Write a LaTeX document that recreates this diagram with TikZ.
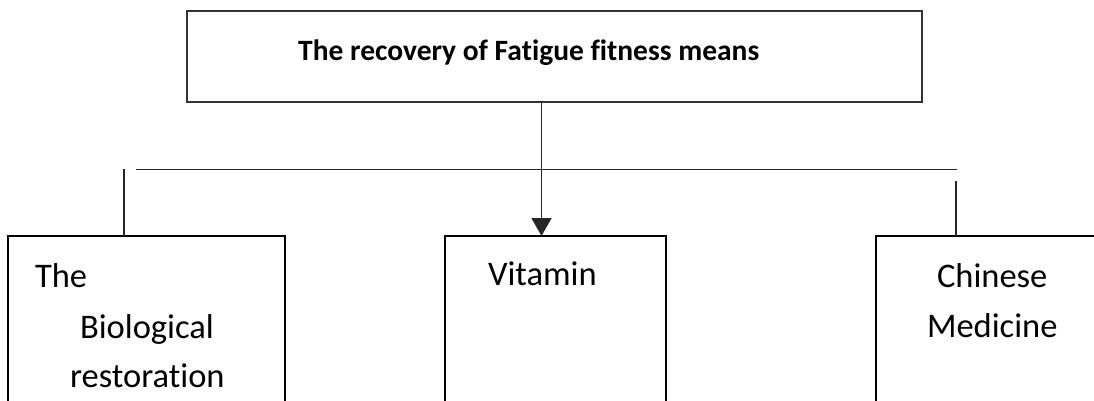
\documentclass[tikz,border=0pt]{standalone}
\usepackage{fontspec}
\setmainfont{Carlito}[Ligatures=NoCommon]
\usetikzlibrary{arrows.meta}
\begin{document}
\begin{tikzpicture}[x=1pt,y=-1pt,
  topbox/.style={draw=black!80, line width=2pt, minimum width=735pt, minimum height=91pt, anchor=north west, inner sep=0pt, outer sep=0pt},
  lowbox/.style={draw=black, line width=1.8pt, minimum height=190pt, anchor=north west, inner sep=0pt, outer sep=0pt},
  lbl/.style={anchor=base west, inner sep=0pt, outer sep=0pt, font=\fontsize{34.5}{40}\selectfont},
  conn/.style={draw=black!85, line width=1.4pt},
]
\useasboundingbox (0,0) rectangle (1094,400);
\clip (0,0) rectangle (1094,400);
% boxes
\node[topbox] (top) at (187,11) {};
\node[lowbox, minimum width=277pt] (b1) at (8,236) {};
\node[lowbox, minimum width=221pt] (b2) at (445,236) {};
\node[lowbox, minimum width=240pt] (b3) at (876,236) {};
% texts
\node[anchor=base west, inner sep=0pt, font=\fontsize{29.5}{36}\selectfont\bfseries] (tt) at (298,60) {The recovery of Fatigue fitness means};
\node[lbl] (t1a) at (35,287) {The};
\node[lbl] (t1b) at (80,338) {Biological};
\node[lbl] (t1c) at (70,387) {restoration};
\node[lbl] (t2) at (488,285) {Vitamin};
\node[lbl] (t3a) at (937,287) {Chinese};
\node[lbl] (t3b) at (927,337) {Medicine};
% connectors
\coordinate (h1) at (136,169.5);
\coordinate (h2) at (957,169.5);
\draw[conn] (h1) -- (h2);
\coordinate (v1) at (124,169);
\draw[conn] (v1) -- (v1 |- b1.north);
\coordinate (v3) at (956,181);
\draw[conn] (v3) -- (v3 |- b3.north);
\coordinate (ax) at (541.5,0);
\draw[conn, -{Triangle[width=20pt,length=18pt]}] (ax |- top.south) -- (ax |- b2.north);
\end{tikzpicture}
\end{document}
